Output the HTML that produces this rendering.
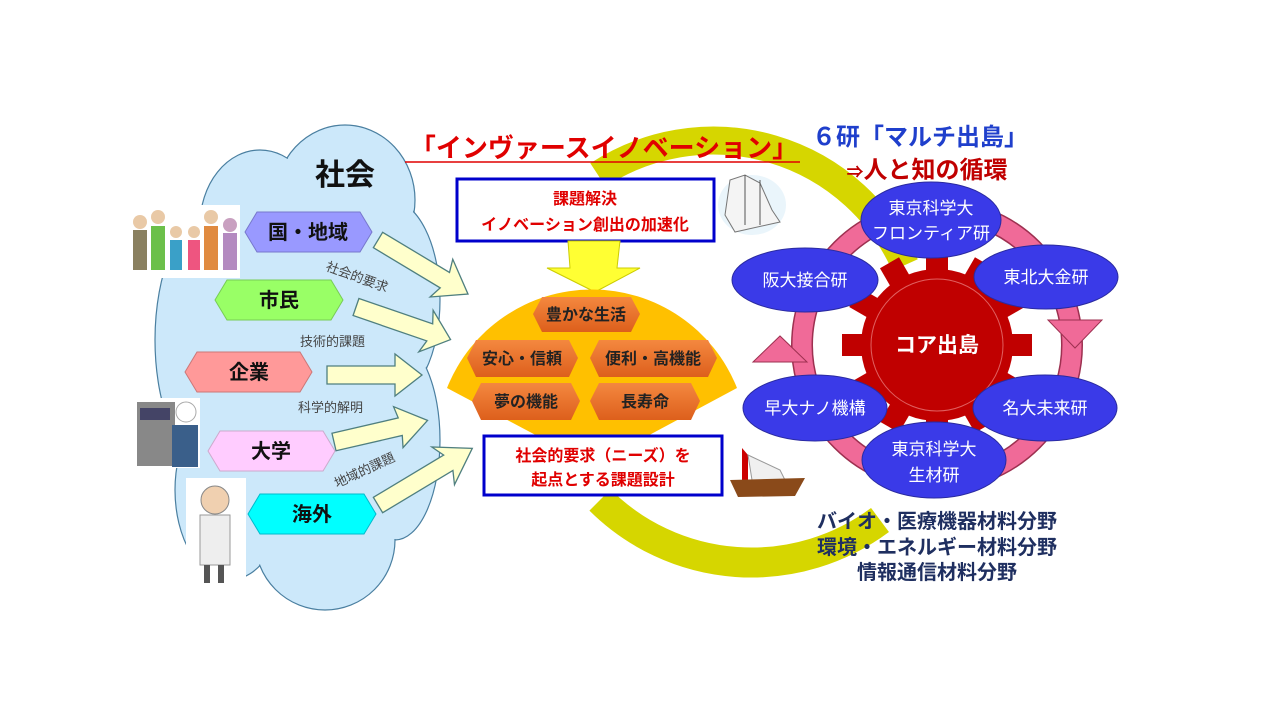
<!DOCTYPE html>
<html><head><meta charset="utf-8"><style>
html,body{margin:0;padding:0;background:#fff;width:1280px;height:720px;overflow:hidden}
svg{display:block;font-family:"Liberation Sans","Noto Sans CJK JP",sans-serif}
</style></head><body>
<svg width="1280" height="720" viewBox="0 0 1280 720" xmlns="http://www.w3.org/2000/svg">
<defs>
<linearGradient id="og" x1="0" y1="0" x2="0" y2="1"><stop offset="0" stop-color="#f4883f"/><stop offset="1" stop-color="#dd5f1c"/></linearGradient>
</defs>
<!-- cloud -->
<g fill="#cce8fa" stroke="#4a7fa0" stroke-width="1.2">
<ellipse cx="345" cy="200" rx="70" ry="75"/><ellipse cx="260" cy="225" rx="60" ry="75"/>
<ellipse cx="390" cy="300" rx="50" ry="100"/><ellipse cx="215" cy="340" rx="60" ry="130"/>
<ellipse cx="395" cy="440" rx="45" ry="100"/><ellipse cx="230" cy="490" rx="55" ry="90"/>
<ellipse cx="325" cy="540" rx="70" ry="70"/><ellipse cx="300" cy="370" rx="120" ry="200"/>
</g>
<g fill="#cce8fa">
<ellipse cx="345" cy="200" rx="69" ry="74"/><ellipse cx="260" cy="225" rx="59" ry="74"/>
<ellipse cx="390" cy="300" rx="49" ry="99"/><ellipse cx="215" cy="340" rx="59" ry="129"/>
<ellipse cx="395" cy="440" rx="44" ry="99"/><ellipse cx="230" cy="490" rx="54" ry="89"/>
<ellipse cx="325" cy="540" rx="69" ry="69"/><ellipse cx="300" cy="370" rx="119" ry="199"/>
</g>
<text x="345" y="185" font-size="30" font-weight="bold" text-anchor="middle" fill="#111">社会</text>
<!-- images placeholders -->
<rect x="125" y="205" width="115" height="73" fill="#fff"/>
<g><circle cx="140" cy="222" r="7" fill="#e9c9a6"/><rect x="133" y="230" width="14" height="40" fill="#8a8060"/>
<circle cx="158" cy="217" r="7" fill="#e9c9a6"/><rect x="151" y="226" width="14" height="44" fill="#6cc04a"/>
<circle cx="176" cy="232" r="6" fill="#e9c9a6"/><rect x="170" y="240" width="12" height="30" fill="#3aa0c8"/>
<circle cx="194" cy="232" r="6" fill="#e9c9a6"/><rect x="188" y="240" width="12" height="30" fill="#ee5580"/>
<circle cx="211" cy="217" r="7" fill="#e9c9a6"/><rect x="204" y="226" width="14" height="44" fill="#e08a40"/>
<circle cx="230" cy="225" r="7" fill="#c9a0c0"/><rect x="223" y="233" width="14" height="37" fill="#b48ac0"/></g>
<rect x="135" y="398" width="65" height="70" fill="#fff"/>
<rect x="137" y="402" width="38" height="64" fill="#888"/><rect x="140" y="408" width="30" height="12" fill="#446"/>
<circle cx="186" cy="412" r="10" fill="#fff" stroke="#aaa"/><rect x="172" y="425" width="26" height="42" fill="#3a5f8a"/>
<rect x="186" y="478" width="60" height="112" fill="#fff"/>
<circle cx="215" cy="500" r="14" fill="#f0d0b0" stroke="#888"/><rect x="200" y="515" width="30" height="50" fill="#eee" stroke="#999"/>
<rect x="204" y="565" width="6" height="18" fill="#555"/><rect x="218" y="565" width="6" height="18" fill="#555"/>
<!-- arrows left -->
<g fill="#ffffcc" stroke="#4f7f7f" stroke-width="1.3">
<polygon points="0,-9 78,-9 74,-22 105,0 74,22 78,9 0,9" transform="translate(378,240) rotate(31)"/>
<polygon points="0,-9 78,-9 74,-22 100,0 74,22 78,9 0,9" transform="translate(356,307) rotate(19)"/>
<polygon points="0,-9 68,-9 68,-21 95,0 68,21 68,9 0,9" transform="translate(327,375)"/>
<polygon points="0,-9 68,-9 66,-21 96,0 66,21 68,9 0,9" transform="translate(334,442) rotate(-13)"/>
<polygon points="0,-9 82,-9 76,-22 110,0 76,22 82,9 0,9" transform="translate(378,505) rotate(-31)"/>
</g>
<g font-size="13" fill="#444">
<text x="325" y="270" transform="rotate(20 325 270)">社会的要求</text>
<text x="300" y="346">技術的課題</text>
<text x="298" y="412">科学的解明</text>
<text x="337" y="488" transform="rotate(-25 337 488)">地域的課題</text>
</g>
<!-- hex labels -->
<g font-size="20" font-weight="bold" text-anchor="middle" fill="#111">
<polygon points="245,232 257,212 360,212 372,232 360,252 257,252" fill="#9999ff" stroke="#7777cc"/>
<text x="308" y="239">国・地域</text>
<polygon points="215,300 227,280 331,280 343,300 331,320 227,320" fill="#99ff66" stroke="#77cc55"/>
<text x="279" y="307">市民</text>
<polygon points="185,372 197,352 300,352 312,372 300,392 197,392" fill="#ff9999" stroke="#cc7777"/>
<text x="249" y="379">企業</text>
<polygon points="208,451 220,431 323,431 335,451 323,471 220,471" fill="#ffccff" stroke="#ccaacc"/>
<text x="271" y="458">大学</text>
<polygon points="248,514 260,494 364,494 376,514 364,534 260,534" fill="#00ffff" stroke="#00bbcc"/>
<text x="312" y="521">海外</text>
</g>
<!-- big yellow arc -->
<path d="M598,175 A210,210 0 0 1 905,265" fill="none" stroke="#d6d600" stroke-width="28"/>
<path d="M600,500 A215,215 0 0 0 880,520" fill="none" stroke="#d6d600" stroke-width="30"/>
<!-- title -->
<text x="604" y="157" font-size="26" font-weight="bold" text-anchor="middle" fill="#e00000">「インヴァースイノベーション」</text>
<line x1="405" y1="162" x2="800" y2="162" stroke="#e00000" stroke-width="1.5"/>
<!-- box1 -->
<rect x="457" y="179" width="257" height="62" fill="#fff" stroke="#0000cc" stroke-width="3"/>
<g font-size="16" font-weight="bold" text-anchor="middle" fill="#e00000">
<text x="585" y="204">課題解決</text><text x="585" y="230">イノベーション創出の加速化</text></g>
<!-- down arrow -->
<polygon points="568,241 620,241 617,268 640,268 595,292 547,268 570,268" fill="#ffff33" stroke="#cccc00"/>
<!-- fan -->
<path d="M447,388 A156,156 0 0 1 737,388 L640,440 L545,440 Z" fill="#ffc000"/>
<g font-size="16" font-weight="bold" text-anchor="middle" fill="#222">
<polygon points="533,314 542,297 631,297 640,314 631,332 542,332" fill="url(#og)"/><text x="586" y="320">豊かな生活</text>
<polygon points="467,358 476,340 569,340 578,358 569,377 476,377" fill="url(#og)"/><text x="522" y="364">安心・信頼</text>
<polygon points="590,358 599,340 708,340 717,358 708,377 599,377" fill="url(#og)"/><text x="653" y="364">便利・高機能</text>
<polygon points="472,401 481,383 571,383 580,401 571,420 481,420" fill="url(#og)"/><text x="526" y="407">夢の機能</text>
<polygon points="590,401 599,383 691,383 700,401 691,420 599,420" fill="url(#og)"/><text x="645" y="407">長寿命</text>
</g>
<!-- box2 -->
<rect x="484" y="436" width="238" height="59" fill="#fff" stroke="#0000cc" stroke-width="3"/>
<g font-size="16" font-weight="bold" text-anchor="middle" fill="#e00000">
<text x="603" y="461">社会的要求（ニーズ）を</text><text x="603" y="485">起点とする課題設計</text></g>
<!-- ships -->
<ellipse cx="752" cy="205" rx="34" ry="30" fill="#eaf5fb"/>
<polygon points="725,215 730,180 745,175 760,183 772,210 780,222 735,232" fill="#f4f4f4" stroke="#777"/>
<line x1="745" y1="175" x2="745" y2="225" stroke="#555"/><line x1="760" y1="180" x2="760" y2="225" stroke="#555"/>
<polygon points="742,448 748,455 748,480 742,480" fill="#c00"/>
<polygon points="748,455 780,470 785,480 752,480" fill="#f0f0f0" stroke="#999"/>
<path d="M730,480 L805,478 L795,496 L738,497 Z" fill="#8a4a1a"/>
<!-- right title -->
<text x="920" y="145" font-size="24" font-weight="bold" text-anchor="middle" fill="#1f3fcc">６研「マルチ出島」</text>
<text x="927" y="178" font-size="24" font-weight="bold" text-anchor="middle" fill="#c00000"><tspan font-size="17">⇒</tspan>人と知の循環</text>
<!-- pink ring -->
<circle cx="937" cy="345" r="135" fill="none" stroke="#9d3050" stroke-width="22"/>
<circle cx="937" cy="345" r="135" fill="none" stroke="#f06a98" stroke-width="19"/>
<polygon points="1048,320 1102,320 1075,348" fill="#f06a98" stroke="#9d3050"/>
<polygon points="753,362 807,362 780,336" fill="#f06a98" stroke="#9d3050"/>
<!-- gear -->
<g fill="#c00000" transform="translate(937,345)">
<circle r="76"/>
<g id="t"><rect x="-11" y="-95" width="22" height="24"/></g>
<use href="#t" transform="rotate(30)"/><use href="#t" transform="rotate(60)"/><use href="#t" transform="rotate(90)"/>
<use href="#t" transform="rotate(120)"/><use href="#t" transform="rotate(150)"/><use href="#t" transform="rotate(180)"/>
<use href="#t" transform="rotate(210)"/><use href="#t" transform="rotate(240)"/><use href="#t" transform="rotate(270)"/>
<use href="#t" transform="rotate(300)"/><use href="#t" transform="rotate(330)"/>
<circle r="66" fill="none" stroke="#e06060" stroke-width="1"/>
</g>
<text x="937" y="352" font-size="21" font-weight="bold" text-anchor="middle" fill="#fff">コア出島</text>
<!-- ellipses -->
<g fill="#3a3ae8" stroke="#2a2aa0" stroke-width="1">
<ellipse cx="931" cy="220" rx="70" ry="38"/>
<ellipse cx="1046" cy="277" rx="72" ry="32"/>
<ellipse cx="805" cy="280" rx="73" ry="32"/>
<ellipse cx="815" cy="408" rx="72" ry="33"/>
<ellipse cx="1045" cy="408" rx="72" ry="33"/>
<ellipse cx="934" cy="460" rx="72" ry="38"/>
</g>
<g font-size="17" text-anchor="middle" fill="#fff">
<text x="931" y="214">東京科学大</text><text x="931" y="239">フロンティア研</text>
<text x="1046" y="283">東北大金研</text>
<text x="805" y="286">阪大接合研</text>
<text x="815" y="414">早大ナノ機構</text>
<text x="1045" y="414">名大未来研</text>
<text x="934" y="455">東京科学大</text><text x="934" y="481">生材研</text>
</g>
<g font-size="20" font-weight="bold" text-anchor="middle" fill="#1f2f60">
<text x="937" y="528">バイオ・医療機器材料分野</text>
<text x="937" y="554">環境・エネルギー材料分野</text>
<text x="937" y="579">情報通信材料分野</text>
</g>
</svg>
</body></html>
